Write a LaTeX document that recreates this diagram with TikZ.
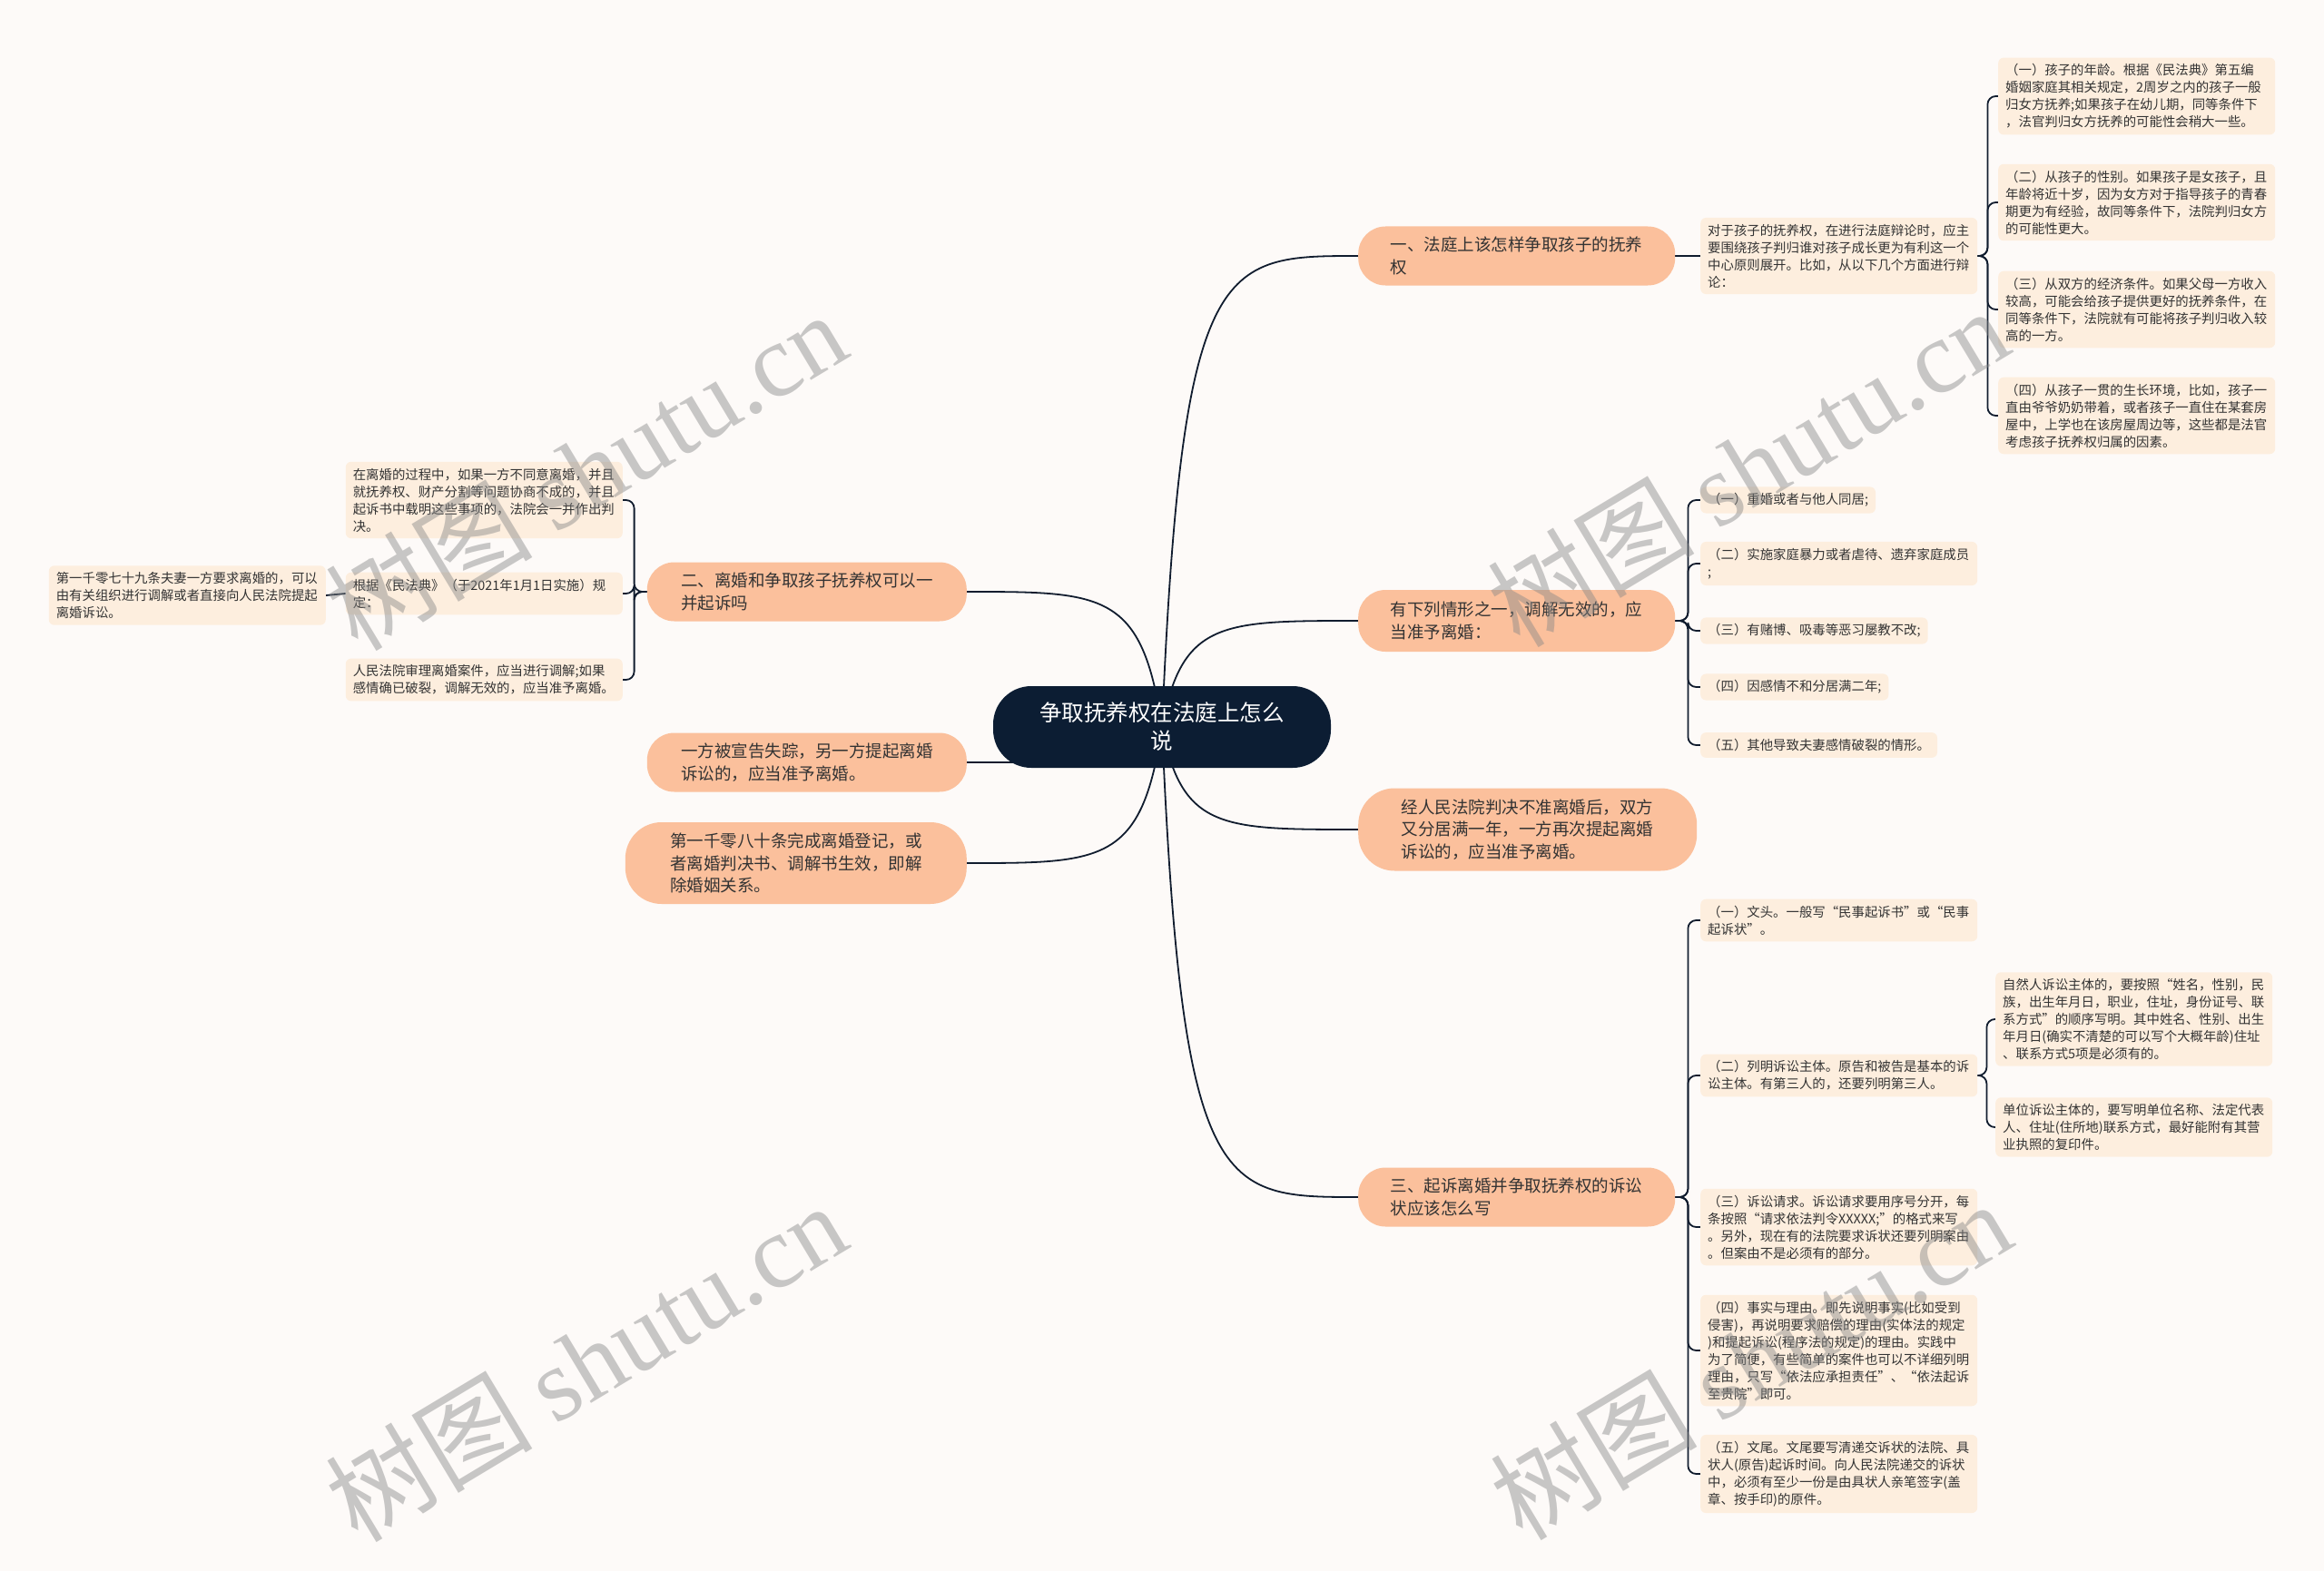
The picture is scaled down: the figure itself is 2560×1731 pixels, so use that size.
\documentclass[tikz,border=0pt]{standalone}
\usepackage{fontspec}
\newfontfamily\cjk{Noto Sans CJK SC}
\newfontfamily\wmlat{Liberation Serif}
\pgfdeclarelayer{background}
\pgfsetlayers{background,main}
\definecolor{bgc}{RGB}{253,250,248}
\definecolor{leafc}{RGB}{253,238,222}
\definecolor{pillc}{RGB}{251,192,156}
\definecolor{rootc}{RGB}{12,29,51}
\definecolor{linec}{RGB}{16,28,46}
\definecolor{txtc}{RGB}{51,51,51}
\definecolor{wmc}{RGB}{135,135,135}
\begin{document}
\begin{tikzpicture}[x=1pt,y=-1pt,
  rootnode/.style={fill=rootc, text=white, rounded corners=42pt, minimum width=372pt, minimum height=90pt, align=center, font=\cjk\fontsize{24.5}{31}\selectfont, inner sep=0pt},
  pill/.style={fill=pillc, text=txtc, rounded corners=30pt, align=left, font=\cjk\fontsize{18.5}{24.5}\selectfont, inner sep=0pt, minimum height=65pt},
  leaf/.style={fill=leafc, text=txtc, rounded corners=6pt, align=left, font=\cjk\fontsize{14.4}{19}\selectfont, inner xsep=8pt, inner ysep=7pt},
  wleaf/.style={leaf, text width=289pt},
  conn/.style={draw=linec, line width=1.8pt},
  brk/.style={conn, rounded corners=9pt},
  wm/.style={text=wmc, text opacity=0.45, rotate=31, font=\fontsize{114}{114}\selectfont}
]
\useasboundingbox (0,0) rectangle (2560,1731);

% root
\node[rootnode] (root) at (1280,801) {争取抚养权在法庭上怎么\\说};

% main branches
\node[pill, minimum width=349pt, anchor=west] (r1) at (1496,282) {一、法庭上该怎样争取孩子的抚养\\权};
\node[pill, minimum width=349pt, minimum height=68pt, anchor=west] (r2) at (1496,684) {有下列情形之一，调解无效的，应\\当准予离婚：};
\node[pill, minimum width=373pt, minimum height=91pt, rounded corners=40pt, anchor=west] (r3) at (1496,914) {经人民法院判决不准离婚后，双方\\又分居满一年，一方再次提起离婚\\诉讼的，应当准予离婚。};
\node[pill, minimum width=349pt, anchor=west] (r4) at (1496,1319) {三、起诉离婚并争取抚养权的诉讼\\状应该怎么写};
\node[pill, minimum width=352pt, anchor=east] (l1) at (1065,652) {二、离婚和争取孩子抚养权可以一\\并起诉吗};
\node[pill, minimum width=352pt, anchor=east] (l2) at (1065,840) {一方被宣告失踪，另一方提起离婚\\诉讼的，应当准予离婚。};
\node[pill, minimum width=376pt, minimum height=90pt, rounded corners=40pt, anchor=east] (l3) at (1065,951) {第一千零八十条完成离婚登记，或\\者离婚判决书、调解书生效，即解\\除婚姻关系。};

% branch r1 leaves
\node[wleaf, anchor=west] (a0) at (1873,282) {对于孩子的抚养权，在进行法庭辩论时，应主\\要围绕孩子判归谁对孩子成长更为有利这一个\\中心原则展开。比如，从以下几个方面进行辩\\论：};
\node[wleaf, anchor=west] (b1) at (2201,106) {（一）孩子的年龄。根据《民法典》第五编\\婚姻家庭其相关规定，2周岁之内的孩子一般\\归女方抚养;如果孩子在幼儿期，同等条件下\\，法官判归女方抚养的可能性会稍大一些。};
\node[wleaf, anchor=west] (b2) at (2201,223) {（二）从孩子的性别。如果孩子是女孩子，且\\年龄将近十岁，因为女方对于指导孩子的青春\\期更为有经验，故同等条件下，法院判归女方\\的可能性更大。};
\node[wleaf, anchor=west] (b3) at (2201,341) {（三）从双方的经济条件。如果父母一方收入\\较高，可能会给孩子提供更好的抚养条件，在\\同等条件下，法院就有可能将孩子判归收入较\\高的一方。};
\node[wleaf, anchor=west] (b4) at (2201,458) {（四）从孩子一贯的生长环境，比如，孩子一\\直由爷爷奶奶带着，或者孩子一直住在某套房\\屋中，上学也在该房屋周边等，这些都是法官\\考虑孩子抚养权归属的因素。};

% branch r2 leaves
\node[leaf, anchor=west] (c1) at (1873,551) {（一）重婚或者与他人同居;};
\node[wleaf, anchor=west] (c2) at (1873,621) {（二）实施家庭暴力或者虐待、遗弃家庭成员\\;};
\node[leaf, anchor=west] (c3) at (1873,695) {（三）有赌博、吸毒等恶习屡教不改;};
\node[leaf, anchor=west] (c4) at (1873,757) {（四）因感情不和分居满二年;};
\node[leaf, anchor=west] (c5) at (1873,821) {（五）其他导致夫妻感情破裂的情形。};

% branch r4 leaves
\node[wleaf, anchor=west] (d1) at (1873,1014) {（一）文头。一般写“民事起诉书”或“民事\\起诉状”。};
\node[wleaf, anchor=west] (d2) at (1873,1185) {（二）列明诉讼主体。原告和被告是基本的诉\\讼主体。有第三人的，还要列明第三人。};
\node[wleaf, anchor=west] (d3) at (1873,1352) {（三）诉讼请求。诉讼请求要用序号分开，每\\条按照“请求依法判令XXXXX;”的格式来写\\。另外，现在有的法院要求诉状还要列明案由\\。但案由不是必须有的部分。};
\node[wleaf, anchor=west] (d4) at (1873,1488) {（四）事实与理由。即先说明事实(比如受到\\侵害)，再说明要求赔偿的理由(实体法的规定\\)和提起诉讼(程序法的规定)的理由。实践中\\为了简便，有些简单的案件也可以不详细列明\\理由，只写“依法应承担责任”、“依法起诉\\至贵院”即可。};
\node[wleaf, anchor=west] (d5) at (1873,1624) {（五）文尾。文尾要写清递交诉状的法院、具\\状人(原告)起诉时间。向人民法院递交的诉状\\中，必须有至少一份是由具状人亲笔签字(盖\\章、按手印)的原件。};
\node[wleaf, anchor=west] (e1) at (2198,1123) {自然人诉讼主体的，要按照“姓名，性别，民\\族，出生年月日，职业，住址，身份证号、联\\系方式”的顺序写明。其中姓名、性别、出生\\年月日(确实不清楚的可以写个大概年龄)住址\\、联系方式5项是必须有的。};
\node[wleaf, anchor=west] (e2) at (2198,1242) {单位诉讼主体的，要写明单位名称、法定代表\\人、住址(住所地)联系方式，最好能附有其营\\业执照的复印件。};

% branch l1 leaves
\node[wleaf, anchor=east] (f1) at (686,551) {在离婚的过程中，如果一方不同意离婚，并且\\就抚养权、财产分割等问题协商不成的，并且\\起诉书中载明这些事项的，法院会一并作出判\\决。};
\node[wleaf, anchor=east] (f2) at (686,654) {根据《民法典》（于2021年1月1日实施）规\\定：};
\node[wleaf, anchor=east] (f3) at (686,749) {人民法院审理离婚案件，应当进行调解;如果\\感情确已破裂，调解无效的，应当准予离婚。};
\node[wleaf, anchor=east] (g1) at (359,656) {第一千零七十九条夫妻一方要求离婚的，可以\\由有关组织进行调解或者直接向人民法院提起\\离婚诉讼。};

% watermarks
\node[wm] (wm1) at (645,518) {\cjk 树图 \wmlat shutu.cn};
\node[wm] (wm2) at (1925,514) {\cjk 树图 \wmlat shutu.cn};
\node[wm] (wm3) at (645,1500) {\cjk 树图 \wmlat shutu.cn};
\node[wm] (wm4) at (1928,1498) {\cjk 树图 \wmlat shutu.cn};

\begin{pgfonlayer}{background}
\fill[bgc] (0,0) rectangle (2560,1731);
\draw[conn] (root.center) .. controls +(22,-519) and +(-151,0) .. (r1.west);
\draw[conn] (root.center) .. controls +(22,-117) and +(-151,0) .. (r2.west);
\draw[conn] (root.center) .. controls +(22,113) and +(-151,0) .. (r3.west);
\draw[conn] (root.center) .. controls +(22,518) and +(-151,0) .. (r4.west);
\draw[conn] (root.center) .. controls +(-22,-149) and +(151,0) .. (l1.east);
\draw[conn] (root.center) .. controls +(-22,39) and +(151,0) .. (l2.east);
\draw[conn] (root.center) .. controls +(-22,150) and +(151,0) .. (l3.east);
\draw[conn] (r1.east) -- (a0.west);
\foreach \n in {b1,b2,b3,b4} \draw[brk] (a0.east) -- ++(11,0) |- (\n.west);
\foreach \n in {c1,c2,c3,c4,c5} \draw[brk] (r2.east) -- ++(14,0) |- (\n.west);
\foreach \n in {d1,d2,d3,d4,d5} \draw[brk] (r4.east) -- ++(14,0) |- (\n.west);
\foreach \n in {e1,e2} \draw[brk] (d2.east) -- ++(10,0) |- (\n.west);
\foreach \n in {f1,f2,f3} \draw[brk] (l1.west) -- ++(-14,0) |- (\n.east);
\draw[conn] (f2.west) -- (g1.east);
\end{pgfonlayer}
\end{tikzpicture}
\end{document}
